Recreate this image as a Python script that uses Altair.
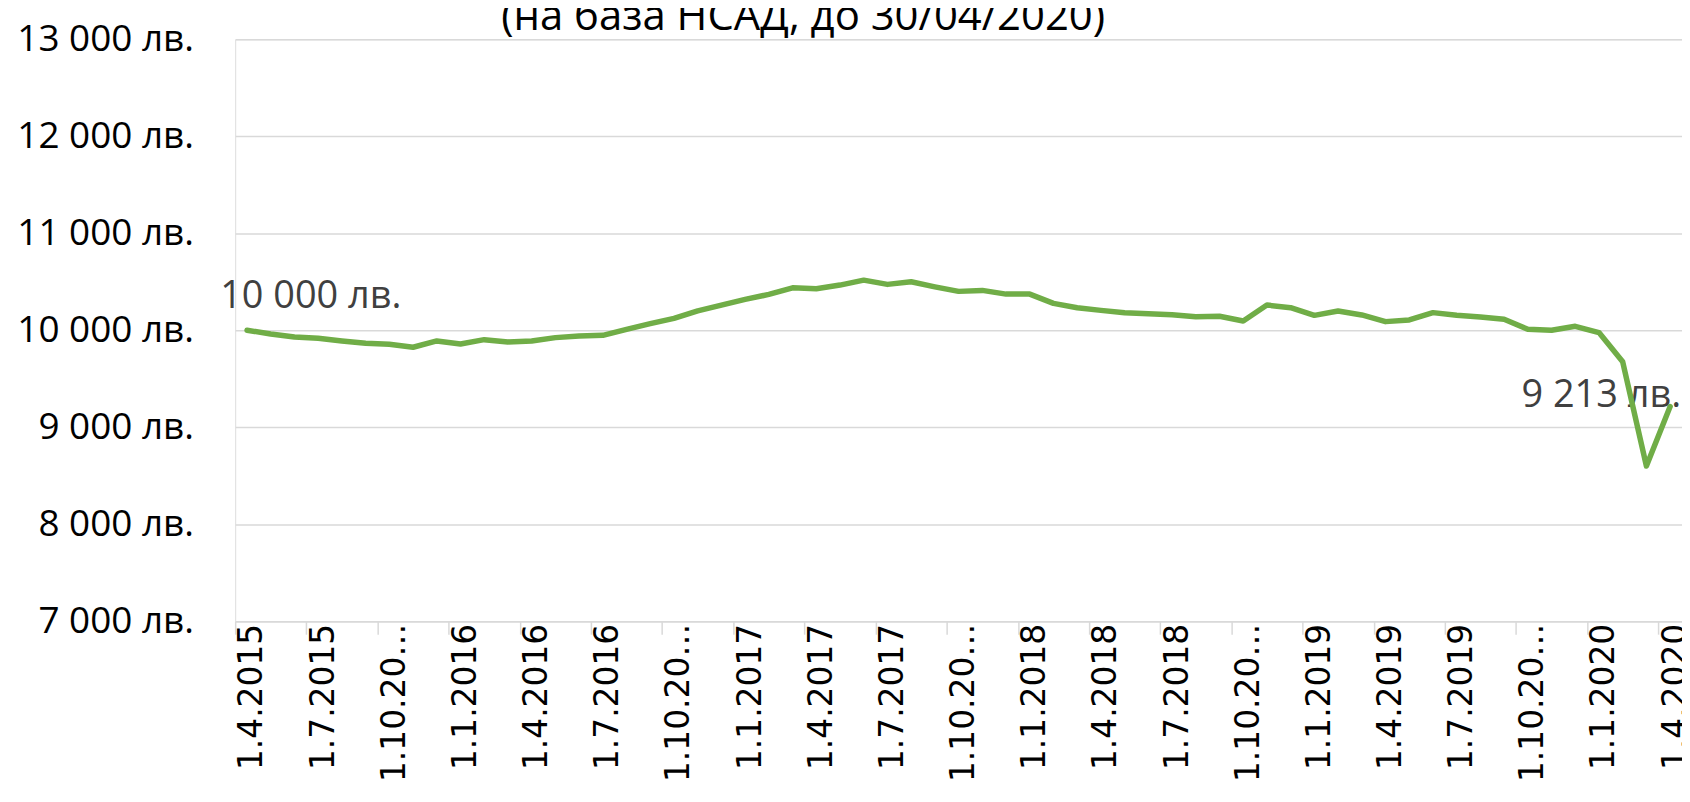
import altair as alt
import pandas as pd

# Monthly values, 1.4.2015 .. 1.4.2020 (61 months)
values = [
    10000, 9962, 9931, 9918, 9890, 9866, 9856, 9825, 9890, 9859,
    9903, 9880, 9890, 9924, 9941, 9948, 10010, 10068, 10123, 10200,
    10260, 10318, 10370, 10438, 10428, 10466, 10517, 10473, 10500, 10448,
    10401, 10411, 10373, 10373, 10277, 10232, 10205, 10181, 10170, 10160,
    10140, 10144, 10096, 10260, 10233, 10154, 10199, 10158, 10089, 10106,
    10182, 10154, 10137, 10113, 10010, 10000, 10041, 9976, 9675, 8600,
    9213,
]

tick_labels = [
    "1.4.2015", "1.7.2015", "1.10.2015", "1.1.2016", "1.4.2016", "1.7.2016",
    "1.10.2016", "1.1.2017", "1.4.2017", "1.7.2017", "1.10.2017", "1.1.2018",
    "1.4.2018", "1.7.2018", "1.10.2018", "1.1.2019", "1.4.2019", "1.7.2019",
    "1.10.2019", "1.1.2020", "1.4.2020",
]
y_ticks = [7000, 8000, 9000, 10000, 11000, 12000, 13000]
labeled_points = [0, len(values) - 1]
title_text = "(на база НСАД, до 30/04/2020)"


def bgn(v):
    return f"{v:,}".replace(",", " ") + " лв."


df = pd.DataFrame({
    "i": list(range(len(values))),
    "v": values,
    "lbl": [bgn(v) for v in values],
})

W, H = 1452, 584
n = len(values)
half_band = W / n / 2.0

GREEN = "#70ad47"
GRID = "#d9d9d9"

x_scale = alt.Scale(domain=[-0.5, n - 0.5], nice=False, zero=False)
y_scale = alt.Scale(domain=[y_ticks[0], y_ticks[-1]], nice=False, zero=False)

arr = "[" + ",".join("'" + t + "'" for t in tick_labels) + "]"
lab = f"{arr}[round(datum.value/3)]"
x_label_expr = (
    f"length({lab}) > 8 ? substring({lab}, 0, 7) + '\u2026' : {lab} + '\u00a0\u00a0\u2009'"
)

x_axis = alt.Axis(
    values=[k * 3 for k in range(len(tick_labels))],
    labelExpr=x_label_expr,
    title=None,
    labelAngle=270,
    labelAlign="right",
    labelBaseline="middle",
    labelFont="DejaVu Sans",
    labelFontSize=33,
    labelColor="#000000",
    labelPadding=-11,
    labelOffset=half_band + 5,
    tickOffset=-half_band,
    labelLimit=500,
    labelOverlap=False,
    labelFlush=False,
    ticks=True,
    tickSize=13,
    tickColor=GRID,
    tickWidth=1.5,
    domain=True,
    domainColor=GRID,
    domainWidth=1.5,
    grid=False,
)

y_axis = alt.Axis(
    values=y_ticks,
    labelExpr="replace(format(datum.value, ',.0f'), ',', ' ') + ' лв.'",
    title=None,
    labelFont="Open Sans",
    labelFontSize=37,
    labelColor="#000000",
    labelPadding=42,
    ticks=False,
    domain=False,
    grid=True,
    gridColor=GRID,
    gridWidth=1.5,
)

base = alt.Chart(df)

line = base.mark_line(
    color=GREEN, strokeWidth=5.5, strokeJoin="round", strokeCap="round"
).encode(
    x=alt.X("i:Q", scale=x_scale, axis=x_axis),
    y=alt.Y("v:Q", scale=y_scale, axis=y_axis),
)

first_lbl = base.transform_filter(
    alt.datum.i == labeled_points[0]
).mark_text(
    align="left", baseline="alphabetic", dx=-27, dy=-22,
    font="Open Sans", fontSize=38, color="#404040",
).encode(x="i:Q", y="v:Q", text="lbl:N")

last_lbl = base.transform_filter(
    alt.datum.i == labeled_points[1]
).mark_text(
    align="right", baseline="alphabetic", dx=11, dy=0,
    font="Open Sans", fontSize=38, color="#404040",
).encode(x="i:Q", y="v:Q", text="lbl:N")

title = alt.Chart(pd.DataFrame({"t": [title_text]})).mark_text(
    align="center", baseline="alphabetic",
    font="Open Sans", fontSize=42, color="#000000",
).encode(
    x=alt.value(570),
    y=alt.value(-9.5),
    text="t:N",
)

chart = alt.layer(first_lbl, last_lbl, line, title).properties(
    width=W,
    height=H,
    autosize=alt.AutoSizeParams(type="none"),
    padding={"left": 228, "top": 30, "right": 0, "bottom": 180},
).configure_view(stroke=None).configure(background="white")

chart.save("out.html", embed_options={"renderer": "svg", "actions": False})
